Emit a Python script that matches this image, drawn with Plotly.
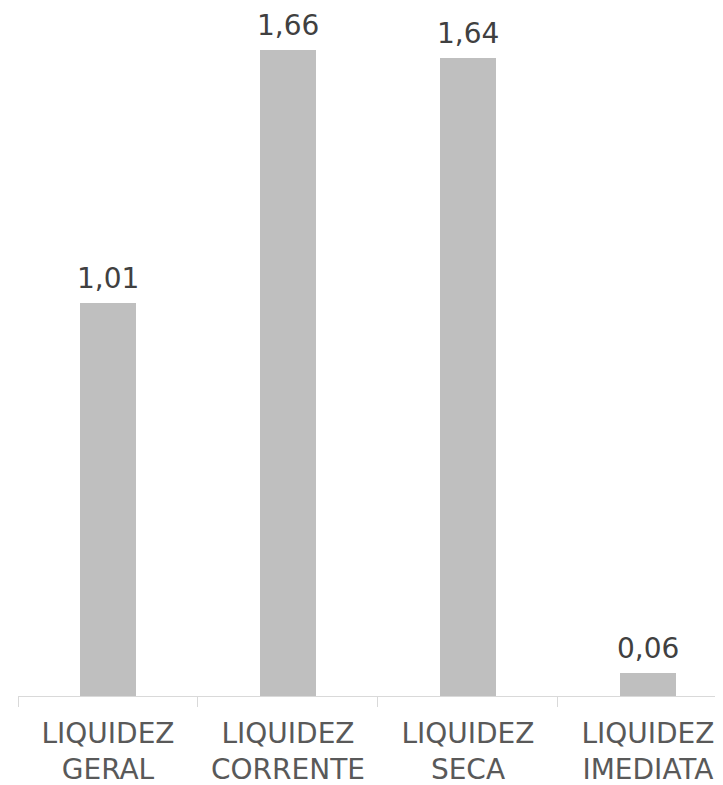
import plotly.graph_objects as go

categories = ["LIQUIDEZ<br>GERAL", "LIQUIDEZ<br>CORRENTE", "LIQUIDEZ<br>SECA", "LIQUIDEZ<br>IMEDIATA"]
values = [1.01, 1.66, 1.64, 0.06]

fig = go.Figure(
    go.Bar(
        x=categories,
        y=values,
        width=0.315,
        marker=dict(color="#BFBFBF", line=dict(width=0)),
        hoverinfo="skip",
    )
)

for c, v in zip(categories, values):
    fig.add_annotation(
        x=c,
        y=v,
        text=f"{v:.2f}".replace(".", ","),
        showarrow=False,
        yanchor="bottom",
        yshift=6,
        font=dict(family="DejaVu Sans", size=28, color="#404040"),
    )

fig.update_layout(
    width=715,
    height=777,
    margin=dict(l=10, r=0, t=0, b=89),
    paper_bgcolor="white",
    plot_bgcolor="white",
    showlegend=False,
    bargap=0,
    font=dict(family="DejaVu Sans", color="#595959"),
)
fig.update_xaxes(
    type="category",
    range=[-0.5, 3.417],
    automargin=False,
    showline=True,
    linecolor="#D9D9D9",
    linewidth=1,
    ticks="outside",
    tickson="boundaries",
    ticklen=10,
    tickcolor="#D9D9D9",
    ticklabelstandoff=12,
    tickfont=dict(family="DejaVu Sans", size=28, color="#595959"),
    showgrid=False,
    zeroline=False,
)
fig.update_yaxes(
    range=[0, 1.769],
    automargin=False,
    visible=False,
    showgrid=False,
    zeroline=False,
)

fig.write_html("out.html")
